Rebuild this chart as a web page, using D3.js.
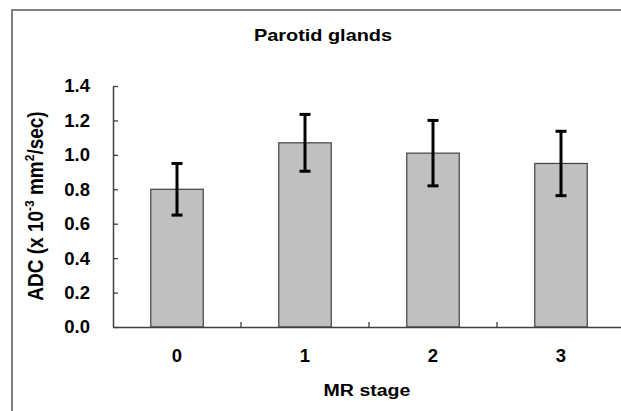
<!DOCTYPE html>
<html><head><meta charset="utf-8">
<script src="https://cdn.jsdelivr.net/npm/d3@7"></script>
<style>body{margin:0;background:#fff;} svg{display:block;} text{font-family:"Liberation Sans",Arial,sans-serif;font-weight:bold;fill:#000;}</style>
</head><body>
<svg id="c" width="621" height="411"></svg>
<script>
const categories = ["0","1","2","3"];
const means = [0.80, 1.07, 1.01, 0.95];
const sds = [0.15, 0.165, 0.19, 0.187];
const yTicks = [0,0.2,0.4,0.6,0.8,1.0,1.2,1.4];

const svg = d3.select("#c");
// outer frame
svg.append("path").attr("d","M12,411V10H621").attr("fill","none").attr("stroke","#7f7f7f").attr("stroke-width",2);

const x = d3.scaleBand().domain(categories).range([113,625]).padding(0);
const y = d3.scaleLinear().domain([0,1.4]).range([327,86]);
const barW = x.bandwidth()*0.41;

const g = svg.append("g");
// bars
g.selectAll("rect").data(categories).join("rect")
  .attr("x", (d)=>x(d)+x.bandwidth()/2-barW/2)
  .attr("y", (d,i)=>y(means[i]))
  .attr("width", barW)
  .attr("height", (d,i)=>y(0)-y(means[i]))
  .attr("fill","#c0c0c0").attr("stroke","#404040").attr("stroke-width",1.2);

// y axis
const ya = svg.append("g").attr("transform","translate(113,0)")
  .call(d3.axisLeft(y).tickValues(yTicks).tickFormat(d3.format(".1f")).tickSizeInner(-5).tickSizeOuter(0).tickPadding(23));
ya.select(".domain").attr("stroke","#404040").attr("stroke-width",1.5);
ya.selectAll(".tick line").attr("stroke","#404040").attr("stroke-width",1.3);
ya.selectAll(".tick text").style("font-size","18.5px").attr("font-family",null).attr("fill","#000");

// x axis
const xa = svg.append("g").attr("transform","translate(0,327)")
  .call(d3.axisBottom(x).tickSize(0).tickPadding(22));
xa.select(".domain").attr("stroke","#404040").attr("stroke-width",1.5);
xa.selectAll(".tick text").style("font-size","18.5px").attr("font-family",null).attr("fill","#000");
// boundary ticks between categories
xa.selectAll(".bt").data(categories.slice(1)).join("line").attr("class","bt")
  .attr("x1",d=>x(d)).attr("x2",d=>x(d)).attr("y1",0).attr("y2",-5)
  .attr("stroke","#404040").attr("stroke-width",1.3);

// error bars
const eb = svg.append("g").attr("stroke","#000").attr("stroke-width",3);
categories.forEach((c,i)=>{
  const cx = x(c)+x.bandwidth()/2;
  eb.append("line").attr("x1",cx).attr("x2",cx).attr("y1",y(means[i]+sds[i])).attr("y2",y(means[i]-sds[i]));
  [means[i]+sds[i], means[i]-sds[i]].forEach(v=>{
    eb.append("line").attr("x1",cx-5.5).attr("x2",cx+5.5).attr("y1",y(v)).attr("y2",y(v));
  });
});

// titles
svg.append("text").attr("transform","translate(323,40.7) scale(1.17,1)").attr("text-anchor","middle").style("font-size","17px").text("Parotid glands");
svg.append("text").attr("transform","translate(367,396) scale(1.15,1)").attr("text-anchor","middle").style("font-size","17px").text("MR stage");
const yl = svg.append("text").attr("transform","translate(43,206) rotate(-90) scale(1,1.12)").attr("text-anchor","middle").style("font-size","19px");
yl.append("tspan").text("ADC (x 10");
yl.append("tspan").attr("dy",-8).style("font-size","12px").text("-3");
yl.append("tspan").attr("dy",8).text(" mm");
yl.append("tspan").attr("dy",-8).style("font-size","12px").text("2");
yl.append("tspan").attr("dy",8).text("/sec)");
</script>
</body></html>
